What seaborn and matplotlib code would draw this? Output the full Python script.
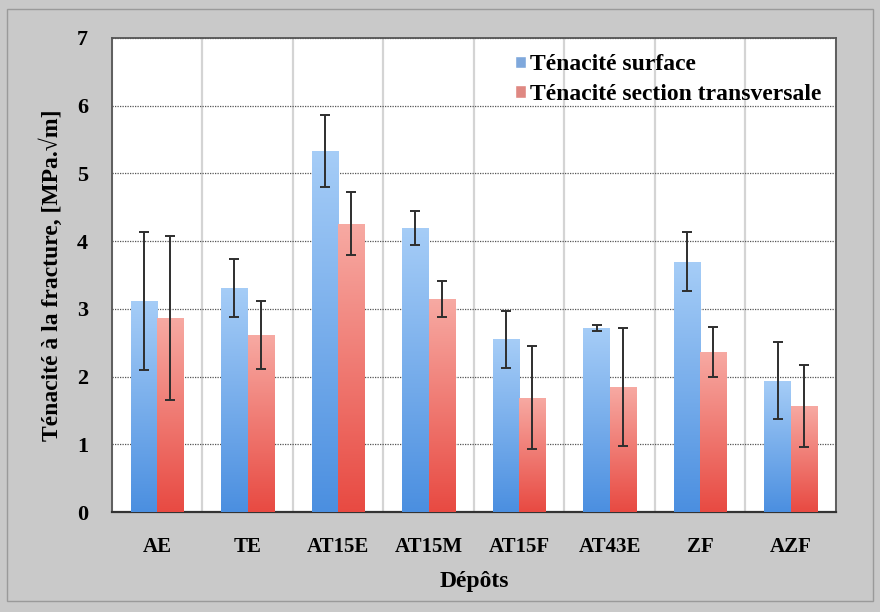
import matplotlib.pyplot as plt
import seaborn as sns
import pandas as pd
import numpy as np
from matplotlib.colors import LinearSegmentedColormap
from matplotlib.patches import Rectangle

# Données
depots = ['AE', 'TE', 'AT15E', 'AT15M', 'AT15F', 'AT43E', 'ZF', 'AZF']
series = ['Ténacité surface', 'Ténacité section transversale']
surface = [3.12, 3.31, 5.33, 4.20, 2.55, 2.72, 3.70, 1.94]
surface_err = [1.02, 0.43, 0.53, 0.25, 0.42, 0.05, 0.44, 0.57]
section = [2.87, 2.62, 4.26, 3.15, 1.69, 1.85, 2.37, 1.57]
section_err = [1.21, 0.50, 0.47, 0.27, 0.76, 0.87, 0.37, 0.61]
yticks = [0, 1, 2, 3, 4, 5, 6, 7]

df = pd.DataFrame({
    'Dépôt': depots * 2,
    'Série': [series[0]] * len(depots) + [series[1]] * len(depots),
    'Ténacité': surface + section,
})
erreurs = [surface_err, section_err]

sns.set_style('white')
plt.rcParams['font.family'] = ['Liberation Serif', 'DejaVu Serif']
plt.rcParams['font.weight'] = 'bold'
plt.rcParams['text.color'] = 'black'
plt.rcParams['axes.labelcolor'] = 'black'
plt.rcParams['xtick.labelcolor'] = 'black'
plt.rcParams['ytick.labelcolor'] = 'black'

fig = plt.figure(figsize=(8.8, 6.12), dpi=100, facecolor='#c9c9c9')
ax = fig.add_axes([0.127, 0.163, 0.823, 0.775])

sns.barplot(data=df, x='Dépôt', y='Ténacité', hue='Série',
            palette=['#6fa6ec', '#ee7a72'], width=0.58, errorbar=None,
            ax=ax, zorder=3)

# dégradé vertical dans chaque barre (clair en haut, foncé en bas)
cmaps = [LinearSegmentedColormap.from_list('b', ['#4b8fe0', '#a6cdf7']),
         LinearSegmentedColormap.from_list('r', ['#e84a42', '#f7aaa3'])]
grad = np.linspace(0, 1, 256).reshape(-1, 1)
for cont, cmap, err in zip(ax.containers, cmaps, erreurs):
    xs, ys = [], []
    for bar in cont:
        x0, w, h = bar.get_x(), bar.get_width(), bar.get_height()
        bar.set_edgecolor('none')
        im = ax.imshow(grad, cmap=cmap, origin='lower', aspect='auto',
                       extent=[x0, x0 + w, 0, h], zorder=3.5)
        im.set_clip_path(bar)
        xs.append(x0 + w / 2)
        ys.append(h)
    ax.errorbar(xs, ys, yerr=err, fmt='none', ecolor='#2e2e2e',
                elinewidth=1.4, capsize=3.8, capthick=1.4, zorder=5)

ax.set_xlim(-0.5, len(depots) - 0.5)
ax.set_ylim(0, 7)
ax.set_yticks(yticks)
ax.set_facecolor('white')

# grille : pointillés horizontaux, traits verticaux entre les catégories
ax.yaxis.grid(True, linestyle=(0, (1, 1)), color='#555555', linewidth=0.9)
ax.set_xticks(np.arange(-0.5, len(depots)), minor=True)
ax.xaxis.grid(True, which='minor', color='#d4d4d4', linewidth=1.6)
ax.xaxis.grid(False, which='major')
ax.set_axisbelow(True)
ax.tick_params(axis='x', which='major', length=0, pad=18, labelsize=15)
ax.tick_params(axis='x', which='minor', length=5, color='#777777', direction='out')
ax.tick_params(axis='y', length=5, color='#777777', direction='out', pad=12, labelsize=16)
for lab in ax.get_xticklabels() + ax.get_yticklabels():
    lab.set_fontweight('bold')

for side in ['top', 'right', 'left', 'bottom']:
    ax.spines[side].set_visible(True)
    ax.spines[side].set_color('#555555')
    ax.spines[side].set_linewidth(1.3)
ax.spines['bottom'].set_color('#333333')
ax.spines['bottom'].set_linewidth(1.6)

ax.set_xlabel('Dépôts', fontsize=17, fontweight='bold', labelpad=10)
ax.set_ylabel('Ténacité à la fracture, [MPa.√m]', fontsize=17,
              fontweight='bold', labelpad=10)

leg = ax.legend(loc='upper right', bbox_to_anchor=(1.0, 0.995), frameon=False,
                fontsize=17, handlelength=0.45, handleheight=0.45,
                handletextpad=0.2, labelspacing=0.35, borderaxespad=0.2)
for t in leg.get_texts():
    t.set_fontweight('bold')

fig.patches.append(Rectangle((0.008, 0.018), 0.984, 0.968,
                             transform=fig.transFigure, fill=False,
                             edgecolor='#9a9a9a', linewidth=1))

fig.savefig('out.png', dpi=100, facecolor=fig.get_facecolor())
